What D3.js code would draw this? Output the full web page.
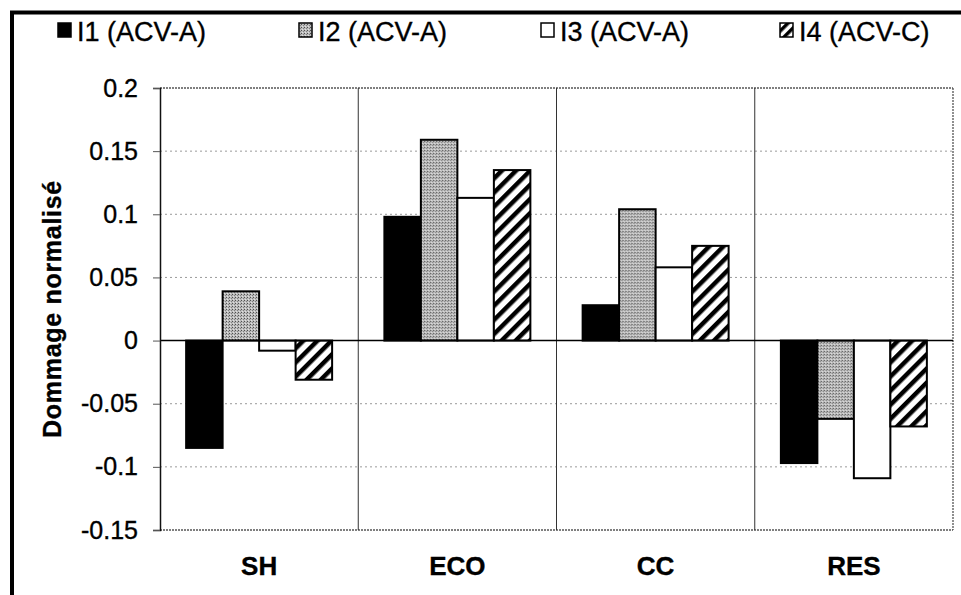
<!DOCTYPE html>
<html>
<head>
<meta charset="utf-8">
<script src="https://cdn.jsdelivr.net/npm/d3@7"></script>
<style>
  html, body { margin: 0; padding: 0; background: #fff; }
  svg { display: block; font-family: "Liberation Sans", Arial, sans-serif; }
  text { stroke: #000; stroke-width: 0.35px; }
</style>
</head>
<body>
<svg id="chart" width="961" height="595"></svg>
<script>
// Normalised damage per impact category, for four scenarios
const categories = ["SH", "ECO", "CC", "RES"];
const seriesNames = ["I1 (ACV-A)", "I2 (ACV-A)", "I3 (ACV-A)", "I4 (ACV-C)"];
const i1 = [-0.085, 0.098, 0.028, -0.097];
const i2 = [0.039, 0.159, 0.104, -0.062];
const i3 = [-0.008, 0.113, 0.058, -0.109];
const i4 = [-0.031, 0.135, 0.075, -0.068];
const yTicks = [0.2, 0.15, 0.1, 0.05, 0, -0.05, -0.1, -0.15];
const yTitle = "Dommage normalisé";

const seriesValues = [i1, i2, i3, i4];
const fills = ["#000", "url(#stipple)", "#fff", "url(#hatch)"];

const svg = d3.select("#chart");
const plot = { left: 160, right: 953, top: 88, bottom: 530 };

// Fill patterns: stippled grey and diagonal hatching
const defs = svg.append("defs");
const st = defs.append("pattern").attr("id", "stipple")
  .attr("patternUnits", "userSpaceOnUse").attr("width", 3).attr("height", 3);
st.append("rect").attr("width", 3).attr("height", 3).attr("fill", "#bcbcbc");
st.append("rect").attr("x", 0).attr("y", 0).attr("width", 1).attr("height", 1).attr("fill", "#505050");
st.append("rect").attr("x", 2).attr("y", 1).attr("width", 1).attr("height", 1).attr("fill", "#808080");
st.append("rect").attr("x", 1).attr("y", 2).attr("width", 1).attr("height", 1).attr("fill", "#e0e0e0");

const ht = defs.append("pattern").attr("id", "hatch")
  .attr("patternUnits", "userSpaceOnUse").attr("width", 10).attr("height", 10)
  .attr("patternTransform", "rotate(45)");
ht.append("rect").attr("width", 10).attr("height", 10).attr("fill", "#fff");
ht.append("rect").attr("x", 0).attr("y", 0).attr("width", 4.5).attr("height", 10).attr("fill", "#000");

const htL = defs.append("pattern").attr("id", "hatchSmall")
  .attr("patternUnits", "userSpaceOnUse").attr("width", 7).attr("height", 7)
  .attr("patternTransform", "rotate(45)");
htL.append("rect").attr("width", 7).attr("height", 7).attr("fill", "#fff");
htL.append("rect").attr("width", 3.5).attr("height", 7).attr("fill", "#000");

// Scales
const x = d3.scaleBand().domain(categories).range([plot.left, plot.right]).padding(0);
const x1 = d3.scaleBand().domain(d3.range(4)).range([0, x.bandwidth()])
  .paddingInner(0).paddingOuter(0.716);
const y = d3.scaleLinear().domain([-0.15, 0.2]).range([plot.bottom, plot.top]);

// Outer frame (extends past the bottom/right of the view)
svg.append("rect").attr("x", 12).attr("y", 12.5).attr("width", 1000).attr("height", 700)
  .attr("fill", "none").attr("stroke", "#000").attr("stroke-width", 4);

// Horizontal gridlines
svg.append("g").selectAll("line").data(yTicks.filter(t => t !== 0 && t !== 0.2 && t !== -0.15))
  .join("line")
  .attr("x1", plot.left).attr("x2", plot.right)
  .attr("y1", d => y(d)).attr("y2", d => y(d))
  .attr("stroke", "#9a9a9a").attr("stroke-width", 1).attr("stroke-dasharray", "2,3");

// Plot area border (dotted top, right, bottom)
const border = svg.append("g").attr("stroke", "#555").attr("stroke-width", 1.3)
  .attr("stroke-dasharray", "2,1").attr("fill", "none");
border.append("line").attr("x1", plot.left).attr("x2", plot.right).attr("y1", y(0.2)).attr("y2", y(0.2));
border.append("line").attr("x1", plot.left).attr("x2", plot.right).attr("y1", y(-0.15)).attr("y2", y(-0.15));
border.append("line").attr("x1", plot.right).attr("x2", plot.right).attr("y1", y(0.2)).attr("y2", y(-0.15));

// Category separators
svg.append("g").selectAll("line").data(categories.slice(1)).join("line")
  .attr("x1", d => x(d)).attr("x2", d => x(d))
  .attr("y1", y(0.2)).attr("y2", y(-0.15))
  .attr("stroke", "#333").attr("stroke-width", 1);

// Bars
const groups = svg.append("g").selectAll("g").data(categories).join("g")
  .attr("transform", d => `translate(${x(d)},0)`);
groups.selectAll("rect")
  .data((c, ci) => seriesValues.map((vals, si) => ({ si, v: vals[ci] })))
  .join("rect")
  .attr("x", d => x1(d.si))
  .attr("width", x1.bandwidth())
  .attr("y", d => y(Math.max(0, d.v)))
  .attr("height", d => Math.abs(y(d.v) - y(0)))
  .attr("fill", d => fills[d.si])
  .attr("stroke", "#000").attr("stroke-width", 2);

// Zero line
svg.append("line").attr("x1", plot.left).attr("x2", plot.right)
  .attr("y1", y(0)).attr("y2", y(0)).attr("stroke", "#000").attr("stroke-width", 1.5);

// Y axis
const yAxis = svg.append("g").attr("transform", `translate(${plot.left},0)`)
  .call(d3.axisLeft(y).tickValues(yTicks).tickSize(7).tickPadding(15)
    .tickFormat(d => d === 0 ? "0" : String(+d.toFixed(2))));
yAxis.select(".domain").attr("stroke", "#111").attr("stroke-width", 1.5);
yAxis.selectAll(".tick line").attr("stroke", "#555");
yAxis.selectAll("text").attr("font-size", 25).attr("fill", "#000")
  .attr("font-family", "Liberation Sans, Arial, sans-serif");

// Y axis title
svg.append("text")
  .attr("transform", `translate(61,309) rotate(-90)`)
  .attr("text-anchor", "middle")
  .attr("font-size", 25).attr("font-weight", "bold")
  .style("letter-spacing", "0.7px")
  .text(yTitle);

// Category labels
svg.append("g").selectAll("text").data(categories).join("text")
  .attr("x", d => x(d) + x.bandwidth() / 2)
  .attr("y", 575)
  .attr("text-anchor", "middle")
  .attr("font-size", 26).attr("font-weight", "bold")
  .text(d => d);

// Legend
const legendX = [57, 298, 540, 779];
const legendFills = ["#000", "url(#stipple)", "#fff", "url(#hatchSmall)"];
const leg = svg.append("g").selectAll("g").data(seriesNames).join("g")
  .attr("transform", (d, i) => `translate(${legendX[i]},0)`);
leg.append("rect").attr("x", 1).attr("y", 23).attr("width", 13).attr("height", 14)
  .attr("fill", (d, i) => legendFills[i]).attr("stroke", "#000").attr("stroke-width", 1.5);
leg.append("text").attr("x", 20).attr("y", 41)
  .attr("font-size", 27)
  .text(d => d);
</script>
</body>
</html>
